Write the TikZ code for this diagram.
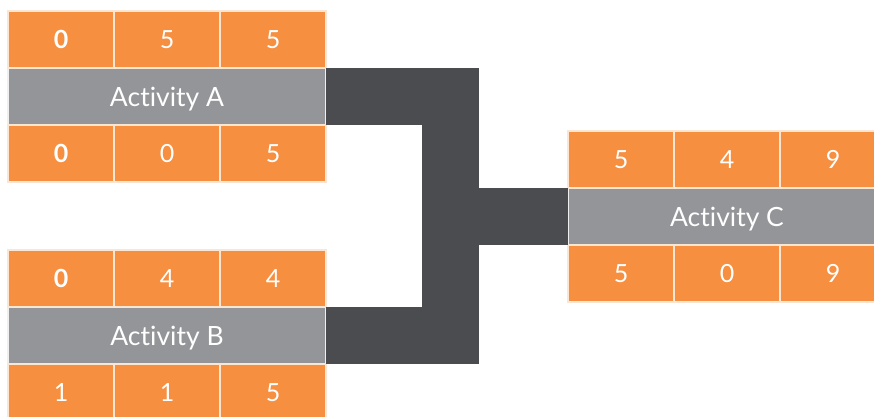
\documentclass[tikz,border=0pt]{standalone}
\usepackage{fontspec}
\setmainfont{Lato}[Ligatures=NoCommon]
\usepackage{xcolor}
\usepackage{tikz}
\usetikzlibrary{positioning}
\definecolor{cellorange}{HTML}{F68F40}
\definecolor{namegray}{HTML}{939598}
\definecolor{linkgray}{HTML}{4B4C50}
\definecolor{cellline}{HTML}{FBE6D4}

\tikzset{
    cell/.style={draw=cellline, line width=1.5pt, fill=cellorange, text=white,
                 minimum width=106pt, minimum height=57pt, inner sep=0pt, outer sep=0pt,
                 font=\fontsize{25}{30}\selectfont},
    namebar/.style={draw=white!85!namegray, line width=1.5pt, fill=namegray, text=white,
                    minimum width=318pt, minimum height=57pt, inner sep=0pt, outer sep=0pt,
                    text depth=0pt, font=\fontsize{26.5}{32}\selectfont},
    link/.style={draw=linkgray, line width=57pt, line join=miter}
}

\begin{document}
\begin{tikzpicture}[x=1pt, y=-1pt]
        \useasboundingbox (0,0) rectangle (874,416);

        % Activity A
        \node[namebar] (nameA) at (167,96.5) {Activity A};
        \node[cell, anchor=south west] (a1) at (nameA.north west) {\textbf{0}};
        \node[cell, right=0pt of a1] (a2) {5};
        \node[cell, right=0pt of a2] (a3) {5};
        \node[cell, anchor=north west] (a4) at (nameA.south west) {\textbf{0}};
        \node[cell, right=0pt of a4] (a5) {0};
        \node[cell, right=0pt of a5] (a6) {5};

        % Activity B
        \node[namebar] (nameB) at (167,335.5) {Activity B};
        \node[cell, anchor=south west] (b1) at (nameB.north west) {\textbf{0}};
        \node[cell, right=0pt of b1] (b2) {4};
        \node[cell, right=0pt of b2] (b3) {4};
        \node[cell, anchor=north west] (b4) at (nameB.south west) {1};
        \node[cell, right=0pt of b4] (b5) {1};
        \node[cell, right=0pt of b5] (b6) {5};

        % Activity C
        \node[namebar] (nameC) at (727,216.5) {Activity C};
        \node[cell, anchor=south west] (c1) at (nameC.north west) {5};
        \node[cell, right=0pt of c1] (c2) {4};
        \node[cell, right=0pt of c2] (c3) {9};
        \node[cell, anchor=north west] (c4) at (nameC.south west) {5};
        \node[cell, right=0pt of c4] (c5) {0};
        \node[cell, right=0pt of c5] (c6) {9};

        % links
        \coordinate (join) at (450.5,216.5);
        \draw[link] (nameA.east) -| (join) |- (nameB.east);
        \draw[link] (join) -- (nameC.west);
    \end{tikzpicture}
\end{document}
